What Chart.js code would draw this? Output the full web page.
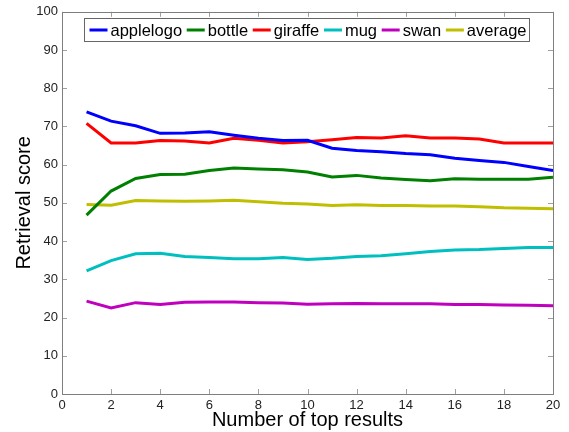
<!DOCTYPE html>
<html>
<head>
<meta charset="utf-8">
<script src="https://cdn.jsdelivr.net/npm/chart.js@4.4.1/dist/chart.umd.min.js"></script>
<style>
	html, body { margin: 0; padding: 0; background: #fff; }
	#wrap { width: 569px; height: 432px; }
</style>
</head>
<body>
<div id="wrap"><canvas id="chart" width="569" height="432"></canvas></div>
<script>
// Dados
const topResults = [1, 2, 3, 4, 5, 6, 7, 8, 9, 10, 11, 12, 13, 14, 15, 16, 17, 18, 19, 20];
const applelogo = [73.8, 71.4, 70.2, 68.2, 68.3, 68.6, 67.7, 66.9, 66.3, 66.4, 64.3, 63.7, 63.4, 62.9, 62.6, 61.7, 61.1, 60.6, 59.5, 58.5];
const bottle = [46.8, 53.1, 56.4, 57.4, 57.5, 58.5, 59.1, 58.9, 58.7, 58.1, 56.8, 57.2, 56.5, 56.1, 55.8, 56.3, 56.2, 56.2, 56.2, 56.7];
const giraffe = [70.8, 65.7, 65.7, 66.3, 66.2, 65.7, 66.9, 66.4, 65.7, 66.0, 66.5, 67.1, 67.0, 67.6, 67.0, 67.0, 66.7, 65.7, 65.7, 65.7];
const mug = [32.2, 34.9, 36.7, 36.8, 36.0, 35.7, 35.4, 35.4, 35.7, 35.2, 35.5, 36.0, 36.2, 36.7, 37.3, 37.7, 37.8, 38.1, 38.3, 38.3];
const swan = [24.3, 22.5, 23.9, 23.4, 24.0, 24.1, 24.1, 23.9, 23.8, 23.5, 23.6, 23.7, 23.6, 23.6, 23.6, 23.4, 23.4, 23.3, 23.2, 23.1];
const average = [49.6, 49.4, 50.6, 50.5, 50.4, 50.5, 50.7, 50.3, 49.9, 49.7, 49.3, 49.5, 49.3, 49.3, 49.2, 49.2, 49.0, 48.7, 48.6, 48.5];

const FONT = "'Liberation Sans', Arial, Helvetica, sans-serif";
const AXIS_COLOR = "#7f7f7f";

function series(label, values, color) {
	return {
		label: label,
		data: values.map((v, i) => ({ x: topResults[i], y: v })),
		borderColor: color,
		backgroundColor: color,
		borderWidth: 3,
		pointRadius: 0,
		tension: 0,
		fill: false,
	};
}

// Caixa e marcas internas (estilo MATLAB)
const axesBox = {
	id: "axesBox",
	afterDatasetsDraw(chart) {
		const ctx = chart.ctx;
		const a = chart.chartArea;
		const xs = chart.scales.x;
		const ys = chart.scales.y;
		const len = 5;
		ctx.save();
		ctx.strokeStyle = "#a0a0a0";
		ctx.lineWidth = 1;
		ctx.beginPath();
		xs.ticks.forEach((t) => {
			const px = Math.round(xs.getPixelForValue(t.value)) + 0.5;
			ctx.moveTo(px, a.bottom);
			ctx.lineTo(px, a.bottom - len);
			ctx.moveTo(px, a.top);
			ctx.lineTo(px, a.top + len);
		});
		ys.ticks.forEach((t) => {
			const py = Math.round(ys.getPixelForValue(t.value)) + 0.5;
			ctx.moveTo(a.left, py);
			ctx.lineTo(a.left + len, py);
			ctx.moveTo(a.right, py);
			ctx.lineTo(a.right - len, py);
		});
		ctx.stroke();
		ctx.strokeStyle = AXIS_COLOR;
		ctx.strokeRect(Math.round(a.left) + 0.5, Math.round(a.top) + 0.5, Math.round(a.right - a.left), Math.round(a.bottom - a.top));
		ctx.restore();
	},
};

// Legenda dentro da área do gráfico
const insideLegend = {
	id: "insideLegend",
	afterDraw(chart) {
		const ctx = chart.ctx;
		const a = chart.chartArea;
		const sample = 18, textGap = 3, padL = 5, padR = 3;
		const boxW = 445, boxH = 23;
		const left = Math.round(a.left + 22) + 0.5;
		const top = Math.round(a.top + 6) + 0.5;
		ctx.save();
		ctx.font = "16.5px " + FONT;
		const items = chart.data.datasets.map((ds) => ({
			label: ds.label,
			color: ds.borderColor,
			w: ctx.measureText(ds.label).width,
		}));
		let content = 0;
		items.forEach((it) => { content += sample + textGap + it.w; });
		const gap = (boxW - padL - padR - content) / (items.length - 1);
		ctx.fillStyle = "#fff";
		ctx.fillRect(left, top, boxW, boxH);
		ctx.strokeStyle = "#666";
		ctx.lineWidth = 1;
		ctx.strokeRect(left, top, boxW, boxH);
		const cy = top + boxH / 2;
		let x = left + padL;
		items.forEach((it) => {
			ctx.strokeStyle = it.color;
			ctx.lineWidth = 3;
			ctx.beginPath();
			ctx.moveTo(x, cy);
			ctx.lineTo(x + sample, cy);
			ctx.stroke();
			x += sample + textGap;
			ctx.fillStyle = "#000";
			ctx.textBaseline = "middle";
			ctx.fillText(it.label, x, cy + 1);
			x += it.w + gap;
		});
		ctx.restore();
	},
};

document.addEventListener("DOMContentLoaded", function () {
	new Chart(document.getElementById("chart").getContext("2d"), {
		type: "line",
		data: {
			datasets: [
				series("applelogo", applelogo, "#0000ff"),
				series("bottle", bottle, "#008000"),
				series("giraffe", giraffe, "#ff0000"),
				series("mug", mug, "#00bfbf"),
				series("swan", swan, "#bf00bf"),
				series("average", average, "#bfbf00"),
			],
		},
		options: {
			responsive: false,
			animation: false,
			layout: { padding: { top: 9, right: 16, left: 0, bottom: 0 } },
			plugins: {
				legend: { display: false },
				tooltip: { enabled: false },
			},
			scales: {
				x: {
					type: "linear",
					min: 0,
					max: 20,
					ticks: { stepSize: 2, color: "#222", font: { family: FONT, size: 13 }, padding: 4, maxRotation: 0 },
					grid: { display: false, drawTicks: false },
					border: { display: false },
					title: { display: true, text: "Number of top results", color: "#000", font: { family: FONT, size: 20 }, padding: { top: 2, bottom: 0 } },
					afterFit(scale) { scale.height = 38; },
				},
				y: {
					min: 0,
					max: 100,
					ticks: { stepSize: 10, color: "#222", font: { family: FONT, size: 13 }, padding: 4 },
					grid: { display: false, drawTicks: false },
					border: { display: false },
					title: { display: true, text: "Retrieval score", color: "#000", font: { family: FONT, size: 20 }, padding: { top: 12, bottom: 0 } },
					afterFit(scale) { scale.width = 62; },
				},
			},
		},
		plugins: [axesBox, insideLegend],
	});
});
</script>
</body>
</html>
